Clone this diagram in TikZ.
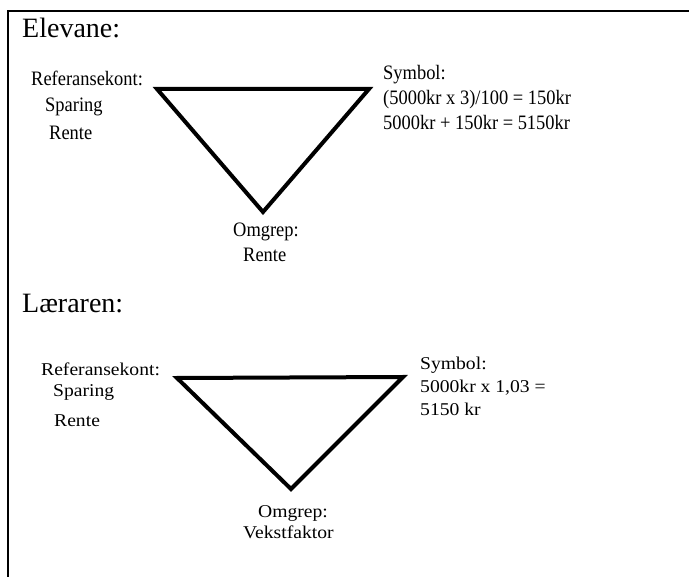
\documentclass[tikz,border=0pt]{standalone}
\usepackage{fontspec}
\setmainfont{Liberation Serif}
\newfontfamily\narrowserif[FakeStretch=0.9]{Liberation Serif}
\newfontfamily\wideserif[FakeStretch=1.09]{Liberation Serif}
\begin{document}
\begin{tikzpicture}[x=1pt,y=-1pt,
  heading/.style={anchor=base west,inner sep=0pt,font=\fontsize{28}{28}\selectfont},
  upper/.style={anchor=base west,inner sep=0pt,font=\narrowserif\fontsize{20.5}{20.5}\selectfont},
  lower/.style={anchor=base west,inner sep=0pt,font=\wideserif\fontsize{18}{18}\selectfont},
  tri/.style={line width=4pt,line join=miter},
  frame/.style={line width=2.2pt}]
\useasboundingbox (0,0) rectangle (689,577);

% table frame (top and left rules)
\coordinate (ftl) at (8,11);
\coordinate (ftr) at (690,11);
\coordinate (fbl) at (8,578);
\draw[frame] (ftr) -- (ftl) -- (fbl);

% ---------- Elevane ----------
\node[heading] (h1) at (22,38) {Elevane:};

\coordinate (a1) at (157,89);
\coordinate (b1) at (369,89);
\coordinate (c1) at (263,212);
\draw[tri] (a1) -- (b1) -- (c1) -- cycle;

\node[upper] (ref1)  at (31,86)   {Referansekont:};
\node[upper] (spa1)  at (45,111.5) {Sparing};
\node[upper] (ren1)  at (49,140)  {Rente};
\node[upper] (sym1)  at (383,80)  {Symbol:};
\node[upper] (calc1) at (383,105) {(5000kr x 3)/100 = 150kr};
\node[upper] (calc2) at (383,130) {5000kr + 150kr = 5150kr};
\node[upper] (omg1)  at (233,237) {Omgrep:};
\node[upper] (ren2)  at (243,262) {Rente};

% ---------- Læraren ----------
\node[heading] (h2) at (22,313) {Læraren:};

\coordinate (a2) at (177,378);
\coordinate (b2) at (403,377);
\coordinate (c2) at (291,489);
\draw[tri] (a2) -- (b2) -- (c2) -- cycle;

\node[lower] (ref2)  at (41,375.5) {Referansekont:};
\node[lower] (spa2)  at (53,396.5) {Sparing};
\node[lower] (ren3)  at (54,427)   {Rente};
\node[lower] (sym2)  at (420,370)  {Symbol:};
\node[lower] (calc3) at (420,393)  {5000kr x 1,03 =};
\node[lower] (calc4) at (420,416)  {5150 kr};
\node[lower] (omg2)  at (258,518)  {Omgrep:};
\node[lower] (vek)   at (243,539)  {Vekstfaktor};
\end{tikzpicture}
\end{document}
